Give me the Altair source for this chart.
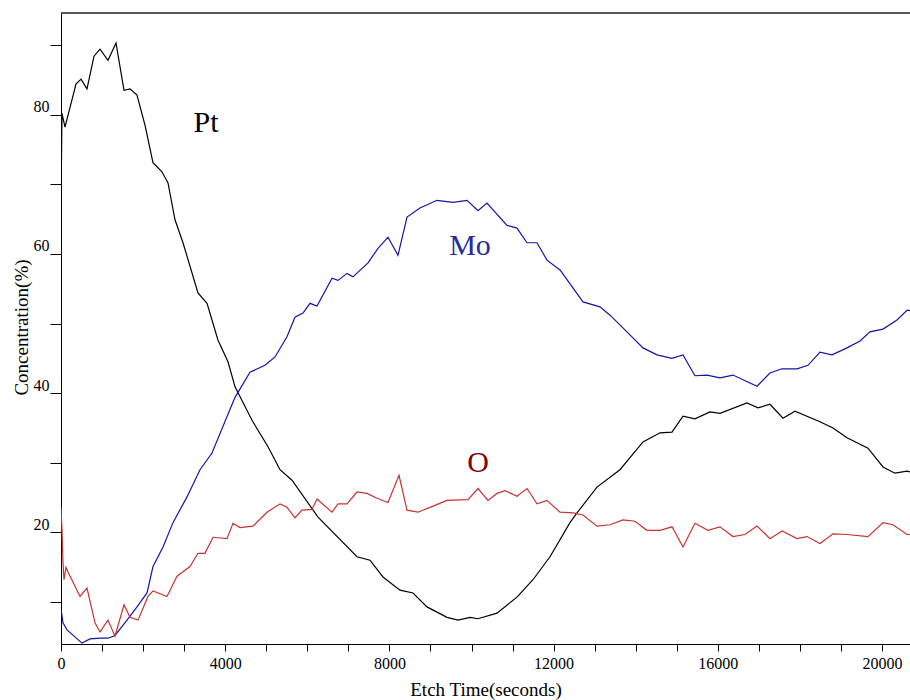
import altair as alt
import pandas as pd

# ---- data ----
pt_t = [0, 24, 97, 365, 487, 633, 804, 950, 1145, 1340, 1535, 1681, 1851, 2046, 2241, 2460,
        2607, 2777, 2972, 3337, 3557, 3825, 4068, 4239, 4653, 5043, 5335, 5627, 6261, 7211,
        7527, 7844, 8258, 8575, 8916, 9403, 9671, 9963, 10158, 10621, 11108, 11498, 11912,
        12399, 12570, 13057, 13617, 14178, 14592, 14884, 15152, 15444, 15810, 16053, 16711,
        16979, 17271, 17588, 17880, 18489, 18806, 19147, 19659, 20024, 20316, 20609, 20682]
pt_v = [67.7, 80.2, 78.2, 84.4, 85.1, 83.7, 88.4, 89.4, 87.8, 90.3, 83.5, 83.7, 82.8, 78.5,
        73.1, 71.8, 70.2, 64.9, 61.6, 54.4, 52.9, 47.6, 44.5, 40.9, 36.1, 32.3, 29.0, 27.5,
        22.2, 16.5, 16.0, 13.6, 11.7, 11.3, 9.3, 7.8, 7.4, 7.8, 7.6, 8.4, 10.7, 13.2, 16.5,
        21.4, 22.8, 26.5, 29.0, 33.0, 34.3, 34.4, 36.7, 36.3, 37.3, 37.1, 38.6, 37.9, 38.4,
        36.4, 37.4, 35.9, 35.0, 33.6, 32.1, 29.4, 28.5, 28.8, 28.7]

mo_t = [0, 49, 146, 512, 706, 950, 1145, 1315, 1608, 1851, 2095, 2241, 2485, 2728, 3069,
        3386, 3678, 4239, 4604, 4969, 5213, 5505, 5700, 5895, 6066, 6236, 6602, 6748, 6967,
        7113, 7479, 7722, 7966, 8209, 8429, 8745, 9159, 9549, 9890, 10158, 10377, 10865,
        11108, 11352, 11595, 11839, 12156, 12716, 13130, 13374, 13788, 14178, 14518, 14884,
        15152, 15444, 15737, 16053, 16370, 16955, 17271, 17564, 17929, 18197, 18489, 18782,
        19147, 19464, 19707, 20024, 20365, 20609, 20682]
mo_v = [9.0, 7.0, 6.0, 4.1, 4.7, 4.8, 4.8, 5.2, 7.4, 9.3, 11.3, 15.1, 17.9, 21.4, 25.1, 29.0,
        31.4, 39.4, 43.0, 44.0, 45.2, 48.1, 50.9, 51.5, 52.9, 52.5, 56.5, 56.2, 57.2, 56.7,
        58.7, 60.8, 62.4, 59.8, 65.3, 66.6, 67.7, 67.4, 67.7, 66.2, 67.3, 64.1, 63.7, 61.6,
        61.6, 59.1, 57.7, 53.1, 52.4, 51.2, 48.8, 46.5, 45.5, 45.0, 45.5, 42.5, 42.6, 42.2,
        42.6, 41.0, 42.9, 43.5, 43.5, 44.0, 45.9, 45.5, 46.5, 47.5, 48.8, 49.2, 50.5, 51.9, 51.9]

o_t = [0, 24, 49, 73, 122, 171, 463, 633, 828, 950, 1145, 1315, 1535, 1681, 1876, 2119, 2241,
       2582, 2826, 3142, 3337, 3508, 3703, 4044, 4190, 4360, 4677, 5018, 5335, 5505, 5700,
       5871, 6114, 6236, 6602, 6748, 6967, 7211, 7454, 7698, 7966, 8234, 8429, 8697, 8989,
       9403, 9915, 10158, 10402, 10621, 10816, 11108, 11352, 11595, 11839, 12156, 12472,
       12716, 13057, 13374, 13690, 13983, 14275, 14592, 14884, 15152, 15444, 15761, 16053,
       16370, 16662, 16955, 17271, 17564, 17929, 18173, 18489, 18806, 19147, 19659, 20024,
       20268, 20609, 20682]
o_v = [23.6, 20.4, 15.6, 13.2, 15.0, 14.3, 10.8, 12.0, 7.0, 5.7, 7.4, 5.1, 9.6, 7.8, 7.4, 10.8,
       11.6, 10.8, 13.7, 15.1, 17.0, 17.0, 19.3, 19.1, 21.3, 20.7, 20.9, 22.9, 24.1, 23.6,
       22.1, 23.2, 23.3, 24.8, 22.9, 24.1, 24.1, 25.8, 25.6, 24.9, 24.3, 28.2, 23.2, 22.9,
       23.6, 24.6, 24.7, 26.3, 24.6, 25.6, 26.0, 25.2, 26.3, 24.1, 24.6, 22.9, 22.8, 22.5,
       20.9, 21.1, 21.8, 21.6, 20.3, 20.3, 20.8, 17.9, 21.3, 20.3, 20.8, 19.4, 19.7, 20.9,
       19.1, 20.2, 19.1, 19.4, 18.4, 19.8, 19.7, 19.4, 21.4, 21.1, 19.7, 19.7]

series = ["Pt", "Mo", "O"]
line_colors = ["#000000", "#1414a8", "#c83232"]
label_colors = ["#000000", "#2a2aa0", "#800000"]
label_t = [3532, 9963, 10158]
label_v = [78.8, 61.1, 30.0]

x_ticks = list(range(0, 21000, 1000))
y_ticks = list(range(10, 100, 10))

# ---- tables ----
rows = []
for name, ts, vs in [("Pt", pt_t, pt_v), ("Mo", mo_t, mo_v), ("O", o_t, o_v)]:
    for i, (t, v) in enumerate(zip(ts, vs)):
        rows.append({"series": name, "t": t, "v": v, "i": i})
df = pd.DataFrame(rows)
labels = pd.DataFrame({"series": series, "t": label_t, "v": label_v, "c": label_colors})

W, H = 849, 631
FONT = "Liberation Serif"

x_scale = alt.Scale(domain=[0, 20682], nice=False, zero=False)
y_scale = alt.Scale(domain=[3.97, 94.6], nice=False, zero=False)

x_axis = alt.Axis(
    values=x_ticks, format="d",
    labelExpr="datum.value % 4000 == 0 ? datum.label : ''",
    title="Etch Time(seconds)", titleFont=FONT, titleFontSize=19, titleFontWeight="normal",
    titleColor="#000000", titleY=45, titleBaseline="middle",
    labelFont=FONT, labelFontSize=16, labelColor="#000000", labelPadding=4,
    tickSize=7, tickColor="#000000", domainColor="#000000", grid=False,
    labelFlush=False, labelOverlap=False,
)
y_axis = alt.Axis(
    values=y_ticks,
    labelExpr="datum.value % 20 == 0 ? datum.label : ''",
    title="Concentration(%)", titleFont=FONT, titleFontSize=19, titleFontWeight="normal",
    titleColor="#000000", titleX=-40, titleY=314, titleBaseline="middle", titleAngle=-90,
    labelFont=FONT, labelFontSize=16, labelColor="#000000", labelPadding=1,
    labelBaseline="bottom",
    tickSize=11, tickColor="#000000", domainColor="#000000", grid=False,
    labelFlush=False, labelOverlap=False,
)

lines = alt.Chart(df).mark_line(strokeWidth=1.2, clip=True).encode(
    x=alt.X("t:Q", scale=x_scale, axis=x_axis),
    y=alt.Y("v:Q", scale=y_scale, axis=y_axis),
    color=alt.Color("series:N", scale=alt.Scale(domain=series, range=line_colors), legend=None),
    order="i:Q",
    detail="series:N",
)

texts = alt.Chart(labels).mark_text(font=FONT, fontSize=30, align="center", baseline="middle").encode(
    x=alt.X("t:Q", scale=x_scale),
    y=alt.Y("v:Q", scale=y_scale),
    text="series:N",
    color=alt.Color("c:N", scale=None),
)

top = alt.Chart(labels).mark_rule(color="#555555", strokeWidth=2).encode(
    x=alt.value(0), x2=alt.value(W), y=alt.value(0)
)

chart = alt.layer(lines, texts, top).properties(
    width=W, height=H,
    padding={"left": 61, "top": 13, "right": 0, "bottom": 56},
    autosize=alt.AutoSizeParams(type="none"),
    background="#ffffff",
).configure_view(stroke=None)

chart.save("out.html", embed_options={"renderer": "svg", "actions": False})
